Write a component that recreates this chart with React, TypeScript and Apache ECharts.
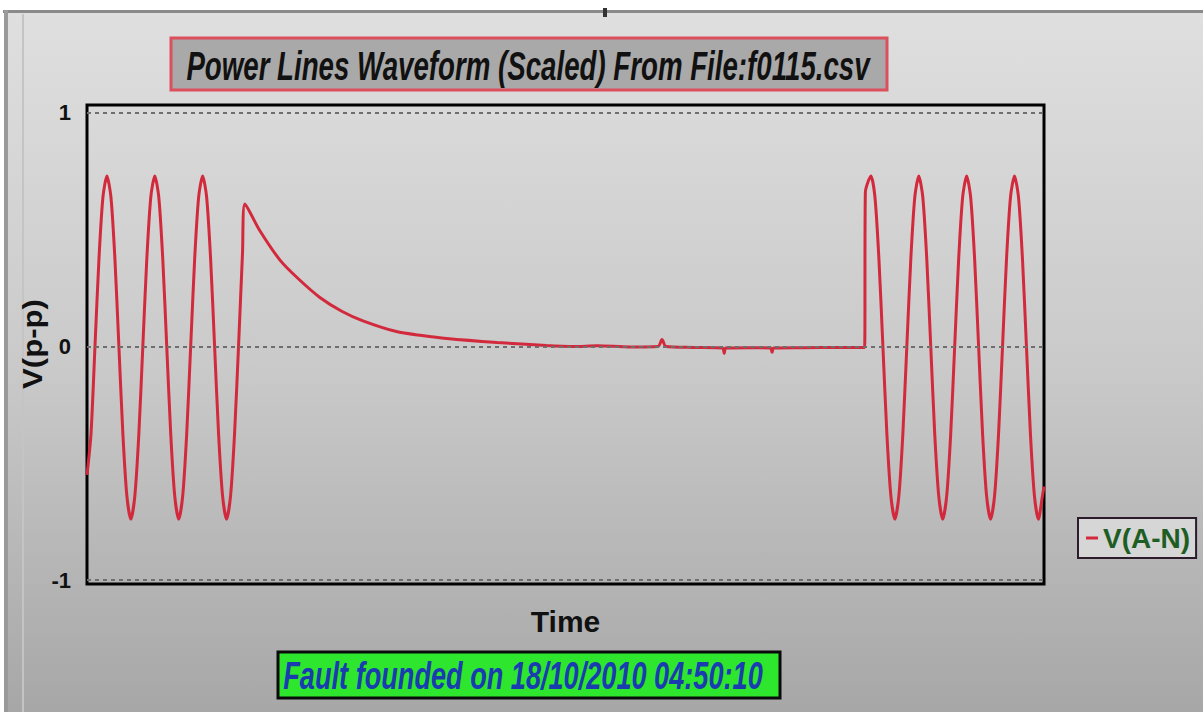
import { useEffect, useRef } from "react";
import * as echarts from "echarts";

const TITLE = "Power Lines Waveform (Scaled) From File:f0115.csv";
const FOOTER = "Fault founded on 18/10/2010 04:50:10";
const SERIES_NAME = "V(A-N)";
const X_NAME = "Time";
const Y_NAME = "V(p-p)";
const Y_TICKS = [-1, 0, 1];
const GUIDE_LEVELS = [1, 0, -1];

// [time, volts]
const preFault: [number, number][] = [
  [0, -0.55], [5, -0.375], [10, 0], [15, 0.375], [20, 0.64], [25, 0.73], [30, 0.64], [35, 0.375],
  [40, 0], [45, -0.375], [50, -0.64], [55, -0.74], [60, -0.64], [65, -0.375], [70, 0], [75, 0.375],
  [80, 0.64], [85, 0.73], [90, 0.64], [95, 0.375], [100, 0], [105, -0.375], [110, -0.64], [115, -0.74],
  [120, -0.64], [125, -0.375], [130, 0], [135, 0.375], [140, 0.64], [145, 0.73], [150, 0.64], [155, 0.375],
  [160, 0], [165, -0.375], [170, -0.64], [175, -0.74], [180, -0.64], [185, -0.375], [190, 0], [195, 0.4],
];
const decay: [number, number][] = [
  [198, 0.61], [216, 0.5], [242, 0.37], [265, 0.29], [292, 0.21], [320, 0.15], [346, 0.11],
  [388, 0.064], [420, 0.047], [451, 0.034], [514, 0.017], [576, 0.004],
];
const dcFlat: [number, number][] = [
  [610, 0.0], [640, 0.003], [680, -0.002], [716, 0.0], [721, 0.03], [726, 0.0], [760, -0.004],
  [797, -0.006], [799, -0.03], [801, -0.006], [830, -0.005], [857, -0.006], [859, -0.025],
  [861, -0.006], [900, -0.005], [940, -0.004], [975, -0.004],
];
const restored: [number, number][] = [
  [976, 0.66], [983, 0.73], [988, 0.64], [993, 0.375], [998, 0], [1003, -0.375], [1008, -0.64],
  [1013, -0.74], [1018, -0.64], [1023, -0.375], [1028, 0], [1033, 0.375], [1038, 0.64], [1043, 0.73],
  [1048, 0.64], [1053, 0.375], [1058, 0], [1063, -0.375], [1068, -0.64], [1073, -0.74], [1078, -0.64],
  [1083, -0.375], [1088, 0], [1093, 0.375], [1098, 0.64], [1103, 0.73], [1108, 0.64], [1113, 0.375],
  [1118, 0], [1123, -0.375], [1128, -0.64], [1133, -0.74], [1138, -0.64], [1143, -0.375], [1148, 0],
  [1153, 0.375], [1158, 0.64], [1163, 0.73], [1168, 0.64], [1173, 0.375], [1178, 0], [1183, -0.375],
  [1188, -0.64], [1193, -0.74], [1198, -0.64], [1200, -0.6],
];

const FONT = '"Liberation Sans", Arial, sans-serif';

function fitScale(text: string, font: string, target: number): number {
  const ctx = document.createElement("canvas").getContext("2d");
  if (!ctx) return 1;
  ctx.font = font;
  const w = ctx.measureText(text).width;
  return w > 0 ? target / w : 1;
}

export default function App() {
  const ref = useRef<HTMLDivElement>(null);

  useEffect(() => {
    if (!ref.current) return;
    const chart = echarts.init(ref.current, undefined, { renderer: "svg" });

    const titleFont = `italic bold 41px ${FONT}`;
    const footFont = `italic bold 39px ${FONT}`;
    const yNameFont = `bold 27px ${FONT}`;
    const titleScale = fitScale(TITLE, titleFont, 683);
    const footScale = fitScale(FOOTER, footFont, 480);
    const yNameScale = fitScale(Y_NAME, yNameFont, 90);

    const data = [...preFault, ...decay, ...dcFlat, ...restored];

    chart.setOption({
      animation: false,
      backgroundColor: "#ffffff",
      grid: {
        left: 87,
        right: 159,
        top: 105,
        bottom: 128,
        show: true,
        borderColor: "#000000",
        borderWidth: 3,
        backgroundColor: "transparent",
      },
      xAxis: {
        type: "value",
        min: 0,
        max: 1200,
        axisLine: { show: false },
        axisTick: { show: false },
        axisLabel: { show: false },
        splitLine: { show: false },
        name: X_NAME,
        nameLocation: "middle",
        nameGap: 22,
        nameTextStyle: { fontSize: 30, fontWeight: "bold", color: "#111111", fontFamily: FONT },
      },
      yAxis: {
        type: "value",
        min: -1.017,
        max: 1.034,
        axisLine: { show: false },
        axisTick: { show: false },
        splitLine: { show: false },
        axisLabel: {
          customValues: Y_TICKS,
          fontSize: 22,
          fontWeight: "bold",
          color: "#111111",
          fontFamily: FONT,
          margin: 16,
        },
      },
      legend: {
        left: 1078,
        top: 518,
        data: [{ name: SERIES_NAME, icon: "rect" }],
        itemWidth: 12,
        itemHeight: 3,
        backgroundColor: "#d6d6d6",
        borderColor: "#2b1b2b",
        borderWidth: 2,
        borderRadius: 0,
        padding: [6, 6, 6, 8],
        selectedMode: false,
        textStyle: { color: "#1e5e24", fontSize: 28, fontWeight: "bold", fontFamily: FONT },
      },
      series: [
        {
          name: SERIES_NAME,
          type: "line",
          data,
          symbol: "none",
          showSymbol: false,
          smooth: 0.25,
          color: "#d22a3c",
          lineStyle: { color: "#d22a3c", width: 3 },
          markLine: {
            silent: true,
            symbol: ["none", "none"],
            label: { show: false },
            lineStyle: { type: [4, 4], color: "#6e6e6e", width: 2 },
            data: GUIDE_LEVELS.map((v) => ({ yAxis: v })),
          },
        },
      ],
      graphic: [
        {
          type: "rect",
          z: -10,
          silent: true,
          shape: { x: 8, y: 13, width: 1195, height: 699 },
          style: {
            fill: new echarts.graphic.LinearGradient(0, 0, 0, 1, [
              { offset: 0, color: "#dfdfdf" },
              { offset: 0.5, color: "#cacaca" },
              { offset: 1, color: "#a7a7a7" },
            ]),
          },
        },
        { type: "rect", z: -9, silent: true, shape: { x: 3, y: 10, width: 1200, height: 3 }, style: { fill: "#8a8a8a" } },
        { type: "rect", z: -9, silent: true, shape: { x: 4, y: 10, width: 4, height: 702 }, style: { fill: "#9a9a9a" } },
        { type: "rect", z: -9, silent: true, shape: { x: 22, y: 14, width: 2, height: 698 }, style: { fill: "#c4c4c4" } },
        { type: "rect", z: -9, silent: true, shape: { x: 603, y: 8, width: 4, height: 9 }, style: { fill: "#333333" } },
        {
          type: "rect",
          z: 10,
          silent: true,
          shape: { x: 171, y: 38, width: 716, height: 52 },
          style: { fill: "#a9a9a9", stroke: "#dc4f5c", lineWidth: 3 },
        },
        {
          type: "text",
          z: 11,
          silent: true,
          x: 528,
          y: 65,
          scaleX: titleScale,
          style: {
            text: TITLE,
            font: titleFont,
            fill: "#111111",
            align: "center",
            verticalAlign: "middle",
          },
        },
        {
          type: "rect",
          z: 10,
          silent: true,
          shape: { x: 278, y: 652, width: 502, height: 46 },
          style: { fill: "#2ee62e", stroke: "#0a0a0a", lineWidth: 3 },
        },
        {
          type: "text",
          z: 11,
          silent: true,
          x: 523,
          y: 676,
          scaleX: footScale,
          style: {
            text: FOOTER,
            font: footFont,
            fill: "#1a3cb0",
            align: "center",
            verticalAlign: "middle",
          },
        },
        {
          type: "text",
          z: 11,
          silent: true,
          x: 33,
          y: 344,
          rotation: Math.PI / 2,
          scaleX: yNameScale,
          style: {
            text: Y_NAME,
            font: yNameFont,
            fill: "#111111",
            align: "center",
            verticalAlign: "middle",
          },
        },
      ],
    });

    return () => chart.dispose();
  }, []);

  return (
    <div
      ref={ref}
      style={{ position: "absolute", left: 0, top: 0, width: 1203, height: 712 }}
    />
  );
}
